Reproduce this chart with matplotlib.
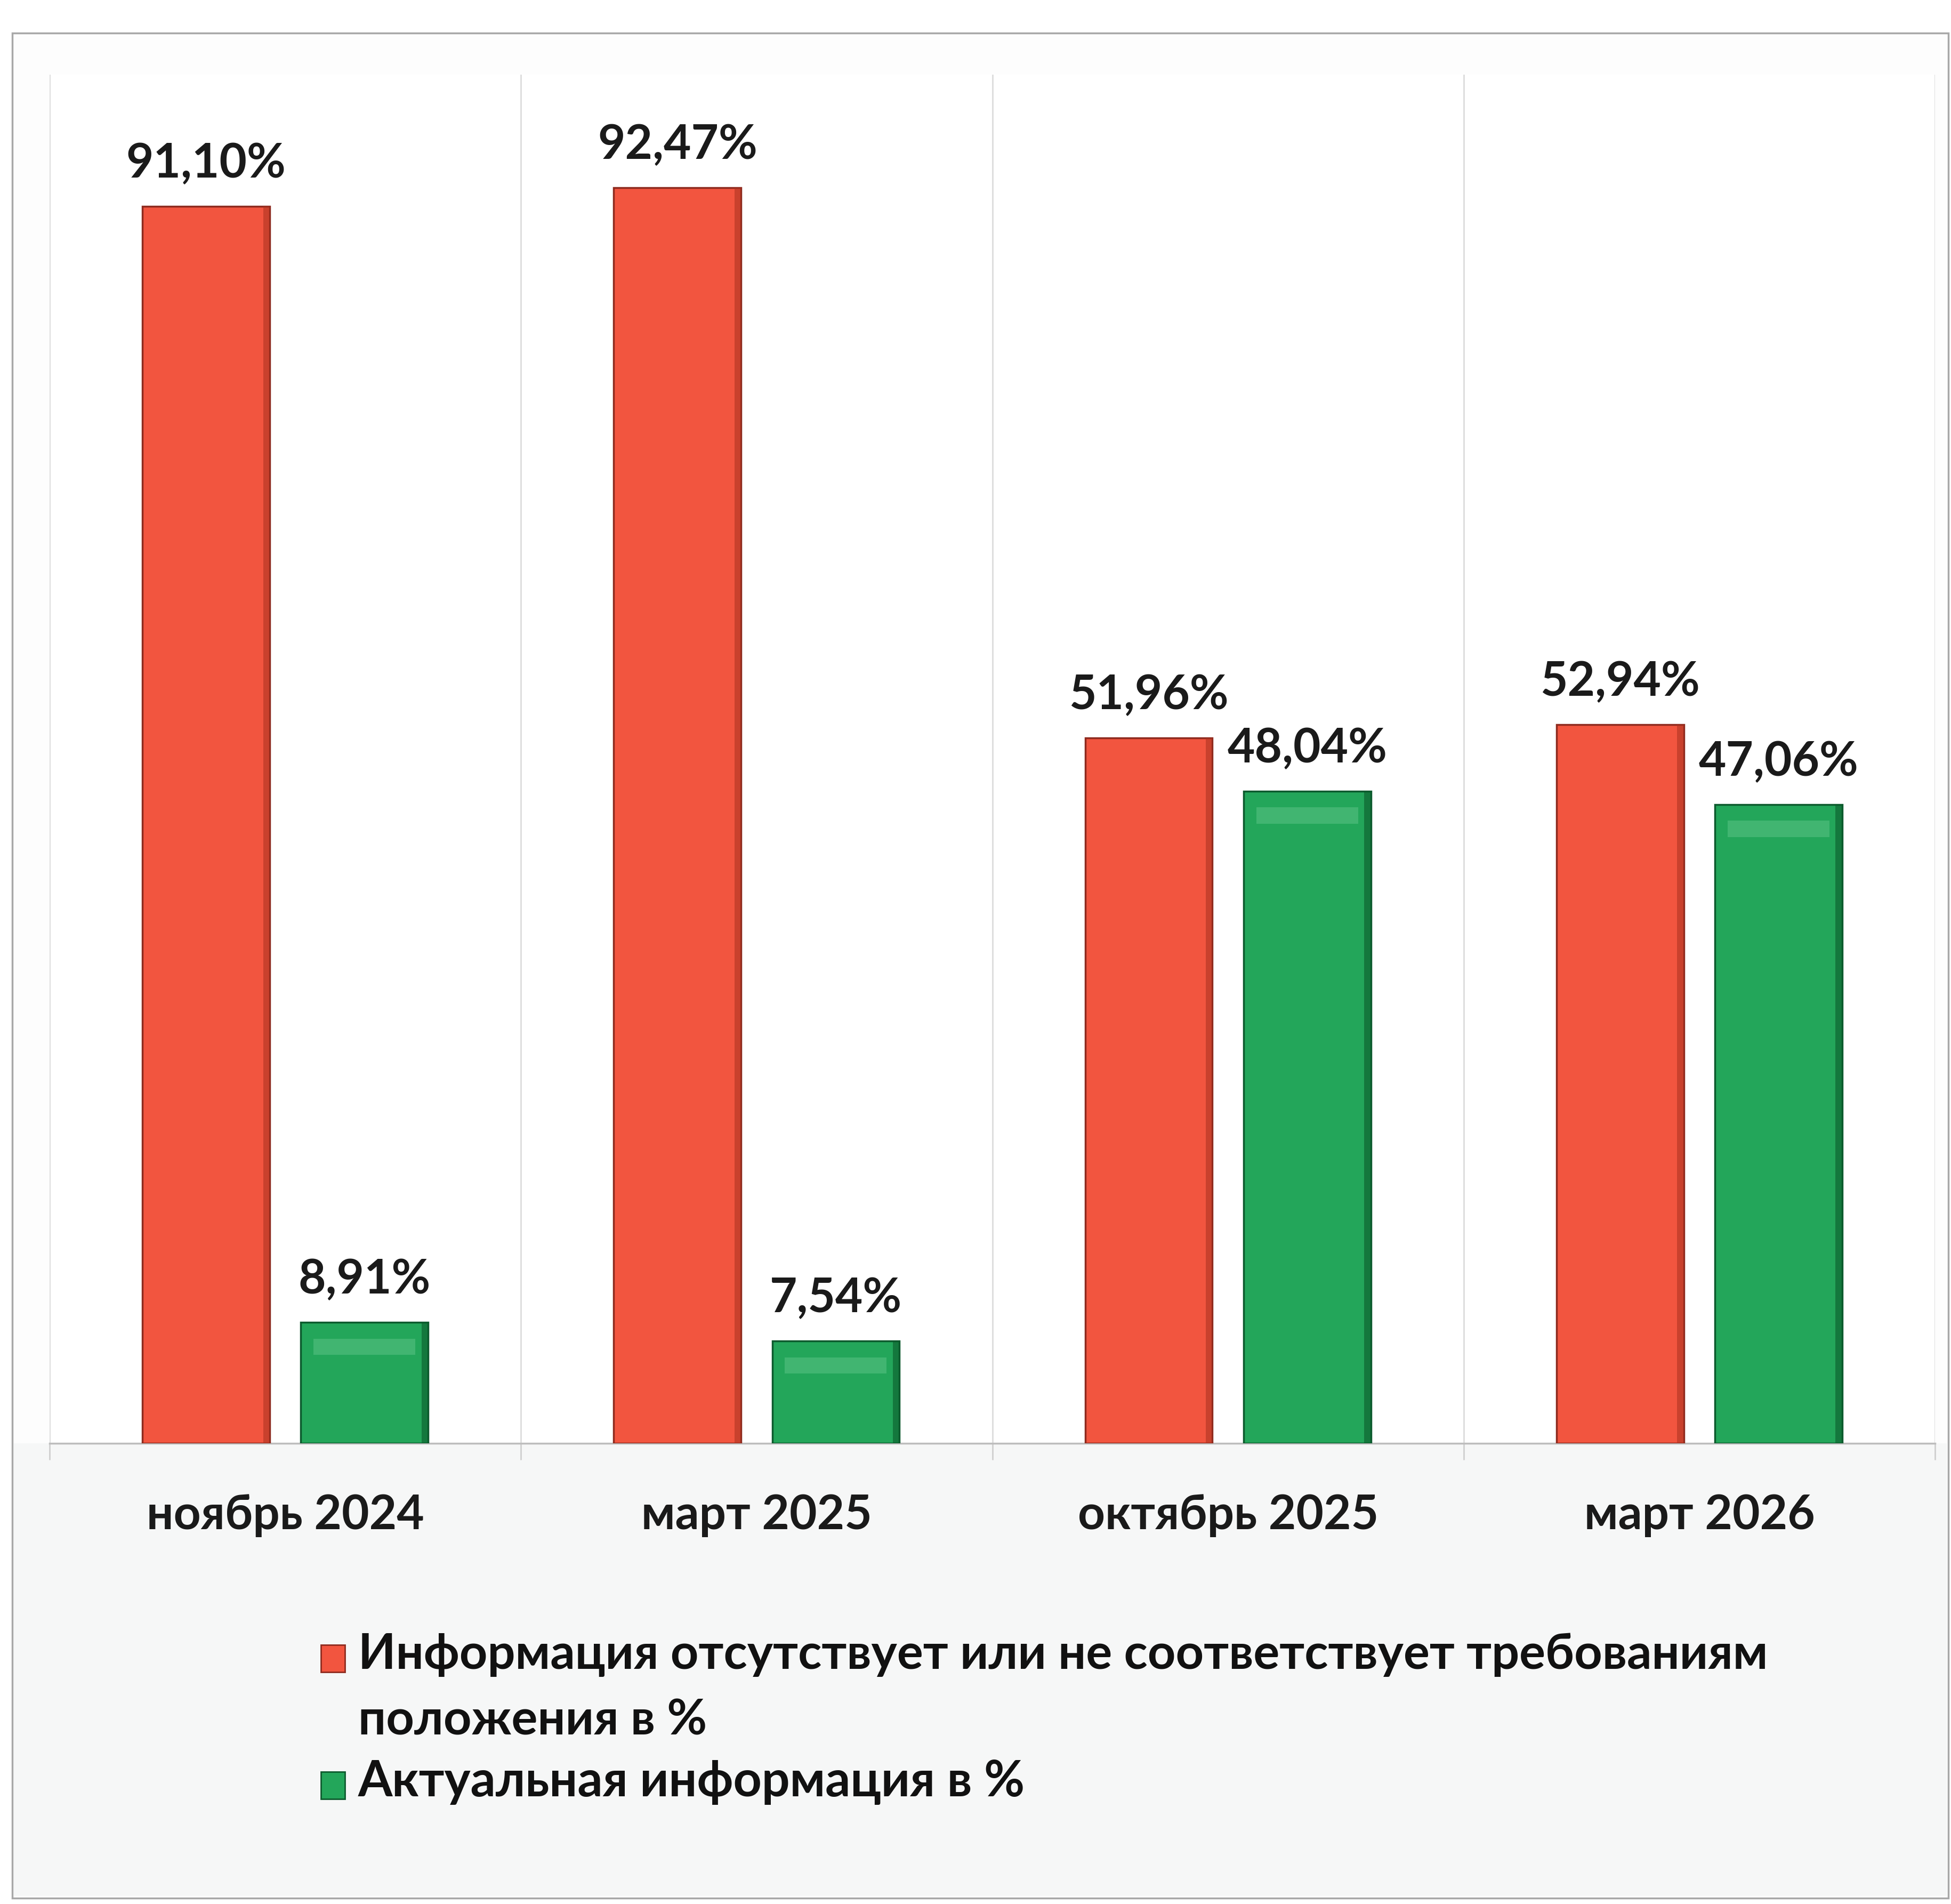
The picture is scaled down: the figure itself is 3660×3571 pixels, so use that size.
import numpy as np
import matplotlib
matplotlib.use("Agg")
import matplotlib.pyplot as plt
from matplotlib.patches import Rectangle

# Данные диаграммы
categories = ["ноябрь 2024", "март 2025", "октябрь 2025", "март 2026"]
missing_pct = [91.10, 92.47, 51.96, 52.94]
actual_pct = [8.91, 7.54, 48.04, 47.06]
series_names = [
    "Информация отсутствует или не соответствует требованиям\nположения в %",
    "Актуальная информация в %",
]

RED = "#f2553f"
RED_EDGE = "#8e2a1e"
GREEN = "#23a65a"
GREEN_EDGE = "#0c5a2d"
FONT = ["Lato", "DejaVu Sans"]

W, H = 3660, 3571
fig = plt.figure(figsize=(W / 100, H / 100), dpi=100)
fig.patch.set_facecolor("white")


def fx(px):
    return px / W


def fy(py):
    return 1 - py / H


# рамка и светлый фон под областью построения
fig.patches.append(Rectangle((fx(23), fy(3560)), fx(3655) - fx(23), fy(62) - fy(3560),
                             transform=fig.transFigure, facecolor="#fdfdfd",
                             edgecolor="#a8a8a8", linewidth=2.5, zorder=-2))
fig.patches.append(Rectangle((fx(26), fy(3556)), fx(3652) - fx(26), fy(2707) - fy(3556),
                             transform=fig.transFigure, facecolor="#f6f7f7",
                             edgecolor="none", zorder=-1))

ax = fig.add_axes([fx(93), fy(2707), fx(3630) - fx(93), fy(140) - fy(2707)])
ax.set_zorder(1)
ax.set_facecolor("white")

x = np.arange(len(categories))
bw = 0.27
off = 0.168
bars_red = ax.bar(x - off, missing_pct, bw, color=RED, edgecolor=RED_EDGE,
                  linewidth=2.5, zorder=3)
bars_green = ax.bar(x + off, actual_pct, bw, color=GREEN, edgecolor=GREEN_EDGE,
                    linewidth=2.5, zorder=3)

# объёмный эффект: тёмная полоса справа, мягкий блик сверху у зелёных
edge_w = 0.014
ax.bar(x - off + bw / 2 - edge_w / 2, missing_pct, edge_w, color="#a8321f",
       alpha=0.55, linewidth=0, zorder=4)
ax.bar(x + off + bw / 2 - edge_w / 2, actual_pct, edge_w, color="#0a5a2a",
       alpha=0.6, linewidth=0, zorder=4)
ax.bar(x + off, [1.2] * len(actual_pct), bw * 0.8,
       bottom=np.array(actual_pct) - 2.4, color="#8fdcae", alpha=0.28,
       linewidth=0, zorder=4)

for bars, vals in [(bars_red, missing_pct), (bars_green, actual_pct)]:
    for b, v in zip(bars, vals):
        ax.annotate(f"{v:.2f}%".replace(".", ","),
                    (b.get_x() + b.get_width() / 2, b.get_height()),
                    xytext=(0, 28), textcoords="offset points",
                    ha="center", va="bottom", fontsize=64, fontweight="bold",
                    family=FONT, color="#1a1a1a")

ax.set_xlim(-0.5, len(categories) - 0.5)
ax.set_ylim(0, 100.8)
ax.set_yticks([])
ax.set_xticks(x)
ax.set_xticklabels(categories, fontsize=64, fontweight="bold", family=FONT,
                   color="#1a1a1a")
ax.set_xticks(np.arange(-0.5, len(categories)), minor=True)
ax.tick_params(axis="x", which="major", length=0, pad=68)
ax.tick_params(axis="x", which="minor", length=22, width=2, color="#cfcfcf")
ax.grid(True, axis="x", which="minor", color="#dcdcdc", linewidth=2, zorder=0)
for s in ["top", "left", "right"]:
    ax.spines[s].set_visible(False)
ax.spines["bottom"].set_color("#bdbdbd")
ax.spines["bottom"].set_linewidth(2.5)

# легенда
name1 = series_names[0].split("\n")
fig.patches.append(Rectangle((fx(602), fy(3136)), fx(45), 51 / H, transform=fig.transFigure,
                             facecolor=RED, edgecolor=RED_EDGE, linewidth=2, zorder=2))
fig.text(fx(672), fy(3104), name1[0], va="center", ha="left", fontsize=66,
         fontweight="bold", family=FONT, color="#111111")
fig.text(fx(672), fy(3228), name1[1], va="center", ha="left", fontsize=66,
         fontweight="bold", family=FONT, color="#111111")
fig.patches.append(Rectangle((fx(602), fy(3374)), fx(45), 51 / H, transform=fig.transFigure,
                             facecolor=GREEN, edgecolor=GREEN_EDGE, linewidth=2, zorder=2))
fig.text(fx(672), fy(3342), series_names[1], va="center", ha="left", fontsize=67,
         fontweight="bold", family=FONT, color="#111111")

fig.savefig("out.png", dpi=100)
